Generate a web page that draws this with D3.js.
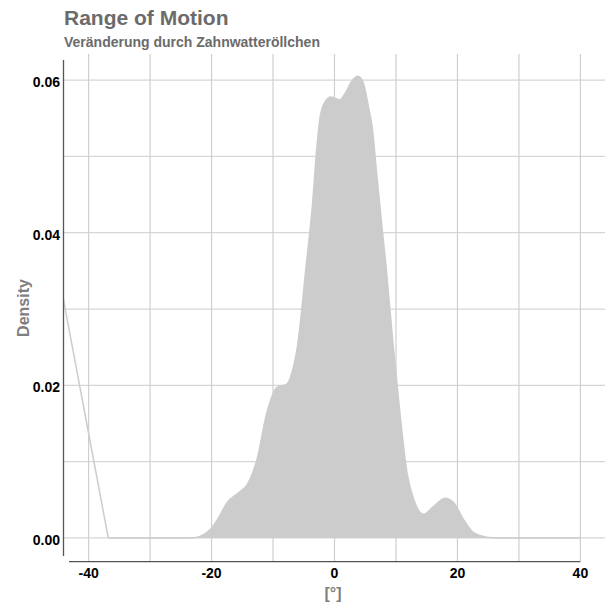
<!DOCTYPE html>
<html>
<head>
<meta charset="utf-8">
<script src="https://cdn.jsdelivr.net/npm/d3@7"></script>
<style>
  html, body { margin: 0; padding: 0; background: #fff; }
  svg { display: block; font-family: "Liberation Sans", Arial, Helvetica, sans-serif; }
</style>
</head>
<body>
<svg id="chart" width="608" height="608"></svg>
<script>
// ---- data ----
const densityX = [-36.8, -30, -25, -23.0, -21.9, -20.2, -18.9, -17.5, -15.3, -14.2, -12.6, -11.0, -9.4, -7.7, -6.65, -6.1,
  -4.5, -3.65, -2.85, -2.3, -1.5, -0.57, 0.83, 1.76, 2.85, 3.82, 4.64, 5.55, 6.1, 6.9, 7.7, 8.27, 9.6,
  10.7, 11.8, 12.9, 14.5, 16.1, 18.0, 19.4, 21.0, 22.6, 24.8, 26.2, 30, 35, 40];
const densityY = [0, 0, 0, 0.00002, 0.0002, 0.0011, 0.0026, 0.0046, 0.0061, 0.0070, 0.0103, 0.0164, 0.0197, 0.0202, 0.0225, 0.0247,
  0.0365, 0.0430, 0.0513, 0.0553, 0.0572, 0.0578, 0.0574, 0.0583, 0.0599, 0.0605, 0.0597, 0.0564, 0.0540, 0.0474, 0.0409, 0.0365, 0.0247,
  0.0159, 0.0085, 0.0050, 0.0031, 0.0041, 0.0052, 0.0046, 0.0024, 0.0007, 0.0001, 0, 0, 0, 0];
const strayX = [-44.1, -36.8];
const strayY = [0.0313, 0];
const xTicks = [-40, -20, 0, 20, 40];
const xMinor = [-30, -10, 10, 30];
const yTicks = [0, 0.02, 0.04, 0.06];
const yMinor = [0.01, 0.03, 0.05];
const yTickLabels = ["0.00", "0.02", "0.04", "0.06"];
const titleText = "Range of Motion";
const subtitleText = "Veränderung durch Zahnwatteröllchen";
const xTitle = "[°]";
const yTitle = "Density";

// ---- layout ----
const panel = { left: 64, right: 605, top: 54, bottom: 561 };
const svg = d3.select("#chart");

const x = d3.scaleLinear().domain([-44, 44]).range([panel.left, panel.right]);
const y = d3.scaleLinear().domain([-0.00302, 0.06342]).range([panel.bottom, panel.top]);

svg.append("defs").append("clipPath").attr("id", "panelClip")
  .append("rect")
  .attr("x", panel.left).attr("y", panel.top)
  .attr("width", panel.right - panel.left).attr("height", panel.bottom - panel.top);

// gridlines
const grid = svg.append("g").attr("stroke", "#d6d6d6").attr("stroke-width", 1.2);
grid.selectAll("line.gy").data(yTicks.concat(yMinor)).join("line")
  .attr("x1", panel.left).attr("x2", panel.right)
  .attr("y1", d => y(d)).attr("y2", d => y(d));
grid.selectAll("line.gx").data(xTicks.concat(xMinor)).join("line")
  .attr("stroke", "#cfcfcf")
  .attr("y1", panel.top).attr("y2", panel.bottom)
  .attr("x1", d => x(d)).attr("x2", d => x(d));

// density area
const pts = densityX.map((d, i) => [d, densityY[i]]);
const area = d3.area().x(d => x(d[0])).y0(y(0)).y1(d => y(d[1])).curve(d3.curveMonotoneX);
const line = d3.line().x(d => x(d[0])).y(d => y(d[1])).curve(d3.curveMonotoneX);
const plot = svg.append("g").attr("clip-path", "url(#panelClip)");
plot.append("path").datum(pts).attr("d", area).attr("fill", "#cccccc");
plot.append("path").datum(pts).attr("d", line).attr("fill", "none").attr("stroke", "#cccccc").attr("stroke-width", 1.5);
const stray = strayX.map((d, i) => [d, strayY[i]]);
plot.append("path").datum(stray).attr("d", d3.line().x(d => x(d[0])).y(d => y(d[1])))
  .attr("fill", "none").attr("stroke", "#cccccc").attr("stroke-width", 1.5);

// axis lines
svg.append("line").attr("x1", 63.5).attr("x2", 63.5).attr("y1", 60).attr("y2", 556)
  .attr("stroke", "#555").attr("stroke-width", 1.3);
svg.append("line").attr("x1", 69).attr("x2", x(40)).attr("y1", 561.7).attr("y2", 561.7)
  .attr("stroke", "#555").attr("stroke-width", 1.3);

// tick labels
svg.append("g").selectAll("text").data(yTicks).join("text")
  .attr("x", 60).attr("y", d => y(d)).attr("dy", "0.5em")
  .attr("text-anchor", "end").attr("font-size", 14).attr("font-weight", "bold").attr("fill", "#000")
  .text((d, i) => yTickLabels[i]);
svg.append("g").selectAll("text").data(xTicks).join("text")
  .attr("x", d => x(d)).attr("y", 578)
  .attr("text-anchor", "middle").attr("font-size", 14).attr("font-weight", "bold").attr("fill", "#000")
  .text(d => String(d));

// axis titles
svg.append("text").attr("x", 333).attr("y", 598.5)
  .attr("text-anchor", "middle").attr("font-size", 16).attr("font-weight", "bold").attr("fill", "#7f7f7f")
  .text(xTitle);
svg.append("text").attr("transform", "translate(28.5, 308) rotate(-90)")
  .attr("text-anchor", "middle").attr("font-size", 16).attr("font-weight", "bold").attr("fill", "#7f7f7f")
  .text(yTitle);

// title / subtitle
svg.append("text").attr("x", 64).attr("y", 25).attr("font-size", 21).attr("font-weight", "bold").attr("fill", "#6b6b6b")
  .text(titleText);
svg.append("text").attr("x", 64).attr("y", 47).attr("font-size", 14).attr("font-weight", "bold").attr("fill", "#6b6b6b")
  .text(subtitleText);
</script>
</body>
</html>
